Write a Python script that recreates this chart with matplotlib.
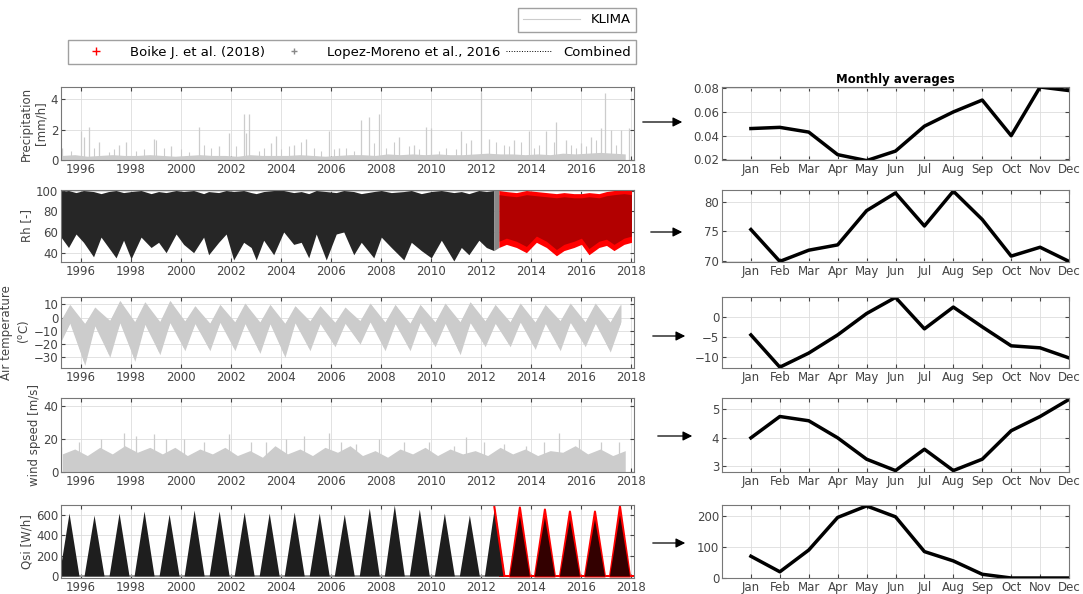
import numpy as np
import matplotlib.pyplot as plt
from matplotlib.lines import Line2D
from matplotlib.patches import FancyArrowPatch

# ---- monthly averages (right column) ----
months = ['Jan', 'Feb', 'Mar', 'Apr', 'May', 'Jun',
          'Jul', 'Aug', 'Sep', 'Oct', 'Nov', 'Dec']
prec_month = [0.046, 0.047, 0.043, 0.024, 0.019, 0.027,
              0.048, 0.060, 0.070, 0.040, 0.081, 0.078]
rh_month = [75.3, 69.9, 71.8, 72.7, 78.5, 81.5,
            75.9, 81.8, 77.0, 70.8, 72.3, 69.9]
temp_month = [-4.5, -12.5, -9.0, -4.5, 0.8, 4.8,
              -3.0, 2.4, -2.5, -7.2, -7.7, -10.2]
wind_month = [4.0, 4.75, 4.6, 4.0, 3.25, 2.85,
              3.6, 2.85, 3.25, 4.25, 4.75, 5.35]
qsi_month = [70, 20, 90, 195, 232, 197, 85, 55, 12, 0, 0, 0]

# ---- time series ----
years = np.arange(1995, 2018)
half_years = np.arange(1995.25, 2018, 0.5)

# precipitation: tallest spikes, smaller spikes and the usual low level
prec_peak_t = [1995.25, 1996.0, 1996.1, 1996.3, 1996.7, 1997.5, 1997.8, 1998.9,
               1999.6, 2000.7, 2001.5, 2001.9, 2002.5, 2002.6, 2002.7, 2003.6,
               2003.8, 2004.5, 2005.0, 2005.9, 2006.3, 2007.2, 2007.5, 2007.9,
               2008.7, 2009.3, 2009.8, 2010.0, 2011.2, 2011.6, 2012.0, 2012.3,
               2013.3, 2013.9, 2014.6, 2015.0, 2015.4, 2016.0, 2016.4, 2016.8,
               2016.95, 2017.2, 2017.6, 2017.9]
prec_peak_v = [0.8, 1.9, 1.5, 2.2, 1.2, 1.0, 1.2, 1.4,
               0.9, 2.2, 0.9, 1.8, 3.0, 1.8, 3.0, 1.1,
               1.6, 1.0, 1.4, 1.9, 0.8, 2.6, 2.8, 3.0,
               1.5, 1.0, 2.2, 2.1, 1.9, 1.3, 4.5, 1.4,
               1.3, 1.9, 1.9, 2.5, 1.3, 1.1, 1.5, 2.1,
               4.4, 2.0, 2.0, 2.1]
prec_small_t = [1995.6, 1996.5, 1997.1, 1997.3, 1998.2, 1998.5, 1999.0, 1999.3,
                2000.0, 2000.3, 2000.9, 2001.2, 2002.2, 2003.1, 2003.3, 2004.0,
                2004.3, 2004.8, 2005.3, 2005.6, 2006.1, 2006.6, 2006.9, 2007.7,
                2008.2, 2008.5, 2009.1, 2009.5, 2010.3, 2010.6, 2011.0, 2011.4,
                2012.6, 2012.9, 2013.1, 2013.6, 2014.1, 2014.3, 2014.9, 2015.6,
                2015.8, 2016.2, 2016.6, 2017.4]
prec_small_v = [0.6, 0.8, 0.5, 0.7, 0.6, 0.7, 1.3, 0.8,
                0.7, 0.5, 1.0, 0.8, 0.9, 0.6, 0.8, 0.7,
                0.9, 1.2, 0.8, 0.6, 0.7, 0.8, 0.6, 1.1,
                0.8, 1.2, 0.9, 0.7, 0.6, 0.8, 0.7, 1.1,
                1.2, 1.0, 0.9, 1.2, 0.8, 1.0, 1.2, 1.0,
                0.8, 0.9, 1.3, 1.0]
prec_base = [0.30, 0.35, 0.25, 0.30, 0.35, 0.30, 0.30, 0.35, 0.30, 0.25, 0.30,
             0.35, 0.30, 0.30, 0.25, 0.35, 0.30, 0.30, 0.30, 0.35, 0.30, 0.25,
             0.30, 0.35, 0.35, 0.30, 0.40, 0.35, 0.40, 0.35, 0.40, 0.35, 0.35,
             0.40, 0.45, 0.40, 0.40, 0.35, 0.40, 0.35, 0.45, 0.40, 0.45, 0.50,
             0.45, 0.40]

# relative humidity, lower / upper envelope
rh_black_t = [1995.2, 1995.5, 1995.8, 1996.1, 1996.5, 1996.8, 1997.1, 1997.4,
              1997.7, 1998.0, 1998.4, 1998.8, 1999.1, 1999.4, 1999.8, 2000.1,
              2000.5, 2000.9, 2001.1, 2001.5, 2001.8, 2002.1, 2002.5, 2002.8,
              2003.0, 2003.3, 2003.7, 2004.1, 2004.5, 2004.8, 2005.1, 2005.4,
              2005.8, 2006.2, 2006.5, 2006.9, 2007.2, 2007.7, 2008.0, 2008.4,
              2008.9, 2009.2, 2009.6, 2010.0, 2010.4, 2010.9, 2011.2, 2011.5,
              2011.9, 2012.2, 2012.5]
rh_black_low = [55, 45, 58, 50, 36, 55, 45, 35, 52, 34, 55, 45, 50, 40, 58, 48,
                40, 55, 38, 50, 58, 33, 50, 45, 33, 52, 38, 60, 48, 50, 35, 58,
                33, 58, 60, 38, 50, 35, 55, 45, 33, 50, 42, 35, 52, 32, 45, 38,
                52, 45, 42]
rh_black_high = [99, 100, 98, 100, 99, 97, 99, 100, 98, 99, 100, 97, 99, 98, 100, 99,
                 100, 97, 99, 98, 100, 99, 100, 98, 97, 99, 100, 100, 98, 99, 97, 100,
                 99, 98, 100, 99, 97, 99, 100, 98, 99, 100, 97, 99, 100, 98, 99, 97,
                 100, 99, 100]
rh_red_t = [2012.7, 2013.0, 2013.4, 2013.8, 2014.2, 2014.6, 2015.0, 2015.3,
            2015.7, 2016.0, 2016.3, 2016.7, 2017.0, 2017.3, 2017.7, 2018.0]
rh_red_low = [45, 48, 45, 40, 50, 45, 37, 42, 45, 48, 38, 45, 47, 42, 48, 50]
rh_red_high = [100, 99, 98, 100, 99, 98, 97, 98, 97, 97, 98, 97, 99, 100, 101, 100]

# air temperature: per year winter min / winter top / summer low / summer max
temp_winter_min = [-20, -36, -30, -33, -28, -25, -25, -25, -27, -30, -25, -22,
                   -20, -25, -25, -22, -28, -22, -22, -24, -25, -22, -26]
temp_winter_top = [-5, -6, -4, -5, -5, -4, -6, -5, -5, -6, -4, -5,
                   -4, -5, -6, -5, -5, -4, -5, -5, -4, -5, -5]
temp_summer_low = [-3, -4, -2, -3, -2, -3, -2, -3, -3, -2, -3, -3,
                   -2, -3, -2, -3, -2, -3, -2, -3, -2, -3, -3]
temp_summer_max = [10, 8, 13, 12, 13, 9, 10, 11, 10, 9, 9, 8,
                   11, 10, 10, 11, 12, 10, 11, 10, 11, 11, 10]

# wind speed: gusts and usual upper level per half year
wind_peak_t = [1995.2, 1995.9, 1996.8, 1997.7, 1998.2, 1998.9, 1999.4, 2000.1,
               2000.9, 2001.9, 2002.8, 2003.4, 2004.2, 2004.9, 2005.9, 2006.4,
               2007.0, 2007.9, 2008.9, 2009.9, 2010.9, 2011.4, 2012.1, 2012.9,
               2013.8, 2014.5, 2015.1, 2015.9, 2016.8, 2017.5]
wind_peak_v = [15, 18, 20, 24, 22, 23, 20, 20, 18, 23, 18, 18, 20, 22, 24, 18,
               17, 20, 18, 18, 16, 21, 18, 17, 16, 18, 24, 20, 18, 18]
wind_base = [11, 14, 10, 15, 11, 16, 12, 15, 11, 15, 10, 14, 11, 15, 10, 13,
             9, 16, 11, 14, 10, 15, 12, 16, 10, 13, 9, 14, 11, 15, 10, 14,
             11, 13, 10, 15, 11, 14, 10, 13, 12, 16, 11, 14, 10, 13]

# incoming shortwave: yearly summer peak
qsi_peak = [620, 600, 620, 640, 610, 650, 640, 630, 620, 630, 620, 610,
            670, 700, 660, 620, 600, 680, 680, 660, 640, 640, 690]


def envelope_temp():
    t_hi, v_hi, t_lo, v_lo = [], [], [], []
    for i, y in enumerate(years):
        t_hi += [y + 0.10, y + 0.55]
        v_hi += [temp_winter_top[i], temp_summer_max[i]]
        t_lo += [y + 0.15, y + 0.58]
        v_lo += [temp_winter_min[i], temp_summer_low[i]]
    return t_hi, v_hi, t_lo, v_lo


def style_left(ax, ylim, yticks):
    ax.set_xlim(1995.2, 2018.1)
    ax.set_ylim(*ylim)
    ax.set_xticks(np.arange(1996, 2019, 2))
    ax.set_yticks(yticks)
    ax.grid(True, color='#dddddd', lw=0.6)
    ax.set_axisbelow(True)
    ax.tick_params(direction='in', top=True, right=True, labelsize=8.5,
                   colors='#444444', length=3, pad=2)
    for s in ax.spines.values():
        s.set_color('#777777')


def style_right(ax, vals, ylim, yticks):
    ax.plot(np.arange(1, 13), vals, color='k', lw=2.5)
    ax.set_xlim(0, 12)
    ax.set_xticks(np.arange(1, 13))
    ax.set_xticklabels(months)
    ax.set_ylim(*ylim)
    ax.set_yticks(yticks)
    ax.grid(True, color='#dddddd', lw=0.6)
    ax.tick_params(direction='in', top=True, right=True, labelsize=8.5,
                   colors='#444444', length=3, pad=2)
    for s in ax.spines.values():
        s.set_color('#777777')


fig = plt.figure(figsize=(10.83, 5.94), dpi=100)
W, H = 1083, 594


def box(x0, x1, y0, y1):
    return [x0 / W, 1 - y1 / H, (x1 - x0) / W, (y1 - y0) / H]


rows = [(87, 160), (190, 262), (297, 368), (398, 472), (505, 578)]
left_axes = [fig.add_axes(box(61, 634, a, b)) for a, b in rows]
right_axes = [fig.add_axes(box(722, 1069, a, b)) for a, b in rows]

grey = '#cccccc'
lab = dict(fontsize=8.5, color='#444444', labelpad=2)

# precipitation
ax = left_axes[0]
ax.fill_between(half_years, 0, prec_base, color=grey, lw=0)
ax.vlines(prec_small_t, 0, prec_small_v, color=grey, lw=0.8)
ax.vlines(prec_peak_t, 0, prec_peak_v, color=grey, lw=0.9)
style_left(ax, (0, 4.8), [0, 2, 4])
ax.set_ylabel('Precipitation\n[mm/h]', **lab)

# relative humidity
ax = left_axes[1]
ax.fill_between(rh_black_t, rh_black_low, rh_black_high, color='#262626', lw=0)
ax.fill_between([2012.5, 2012.7], [42, 45], [100, 100], color='#888888', lw=0)
ax.fill_between(rh_red_t, rh_red_low, rh_red_high, color='red', lw=0)
ax.fill_between(rh_red_t, np.array(rh_red_low) + 6, np.array(rh_red_high) - 4,
                color='black', lw=0, alpha=0.3)
style_left(ax, (31, 100.5), [40, 60, 80, 100])
ax.set_ylabel('Rh [-]', **lab)

# air temperature
ax = left_axes[2]
t_hi, v_hi, t_lo, v_lo = envelope_temp()
ax.fill_between(t_hi, v_hi, np.interp(t_hi, t_lo, v_lo), color=grey, lw=0)
ax.fill_between(t_lo, np.interp(t_lo, t_hi, v_hi), v_lo, color=grey, lw=0)
style_left(ax, (-38, 15.5), [-30, -20, -10, 0, 10])
ax.set_ylabel('Air temperature\n($^{\\rm o}$C)', **lab)

# wind speed
ax = left_axes[3]
ax.fill_between(half_years, 0, wind_base, color=grey, lw=0)
ax.vlines(wind_peak_t, 0, wind_peak_v, color=grey, lw=0.9)
style_left(ax, (0, 45), [0, 20, 40])
ax.set_ylabel('wind speed [m/s]', **lab)

# Qsi
ax = left_axes[4]
ax.fill_between([1995.2, 2012.7], -12, 8, color='#999999', lw=0)
ax.fill_between([2012.7, 2018.1], -14, 10, color='red', lw=0)
for i, y in enumerate(years):
    t = [y + 0.12, y + 0.52, y + 0.92]
    v = [0, qsi_peak[i], 0]
    if y >= 2013:
        ax.fill_between(t, 0, v, color='red', lw=1.5, edgecolor='red')
        ax.fill_between(t, 0, [0, qsi_peak[i] * 0.88, 0], color='black',
                        alpha=0.8, lw=0)
    else:
        ax.fill_between(t, 0, v, color='#1e1e1e', lw=0)
ax.plot([2012.52, 2012.92], [qsi_peak[17], 0], color='red', lw=1.5)
style_left(ax, (-20, 700), [0, 200, 400, 600])
ax.set_ylabel('Qsi [W/h]', **lab)

# monthly averages
style_right(right_axes[0], prec_month, (0.0195, 0.081), [0.02, 0.04, 0.06, 0.08])
right_axes[0].set_title('Monthly averages', fontsize=8.5, fontweight='bold', pad=3)
style_right(right_axes[1], rh_month, (69.8, 82), [70, 75, 80])
style_right(right_axes[2], temp_month, (-12.7, 4.9), [-10, -5, 0])
style_right(right_axes[3], wind_month, (2.8, 5.4), [3, 4, 5])
style_right(right_axes[4], qsi_month, (0, 235), [0, 100, 200])

# arrows between the columns
arrows = [(640, 685, 122), (648, 685, 232), (650, 688, 336),
          (655, 695, 436), (650, 688, 543)]
for x0, x1, y in arrows:
    fig.add_artist(FancyArrowPatch((x0 / W, 1 - y / H), (x1 / W, 1 - y / H),
                                   transform=fig.transFigure, arrowstyle='-|>',
                                   mutation_scale=14, color='k', lw=0.9))

# legends
h1 = [Line2D([], [], color='#cccccc', lw=0.8)]
fig.legend(h1, ['KLIMA'], loc='upper right', bbox_to_anchor=(636 / W, 1 - 8 / H),
           borderaxespad=0, fancybox=False, edgecolor='#888888', fontsize=9.5,
           handlelength=4.3)
h2 = [Line2D([], [], color='red', marker='+', ls='none', ms=6),
      Line2D([], [], color='#888888', marker='+', ls='none', ms=5),
      Line2D([], [], color='k', ls=':', lw=0.7)]
fig.legend(h2, ['Boike J. et al. (2018)', 'Lopez-Moreno et al., 2016', 'Combined'],
           loc='lower left', ncol=3, mode='expand',
           bbox_to_anchor=(68 / W, 1 - 64 / H, 568 / W, 24 / H),
           borderaxespad=0, fancybox=False, edgecolor='#888888', fontsize=9.5,
           handlelength=3.5, columnspacing=1.0)

fig.savefig('out.png', dpi=100)
